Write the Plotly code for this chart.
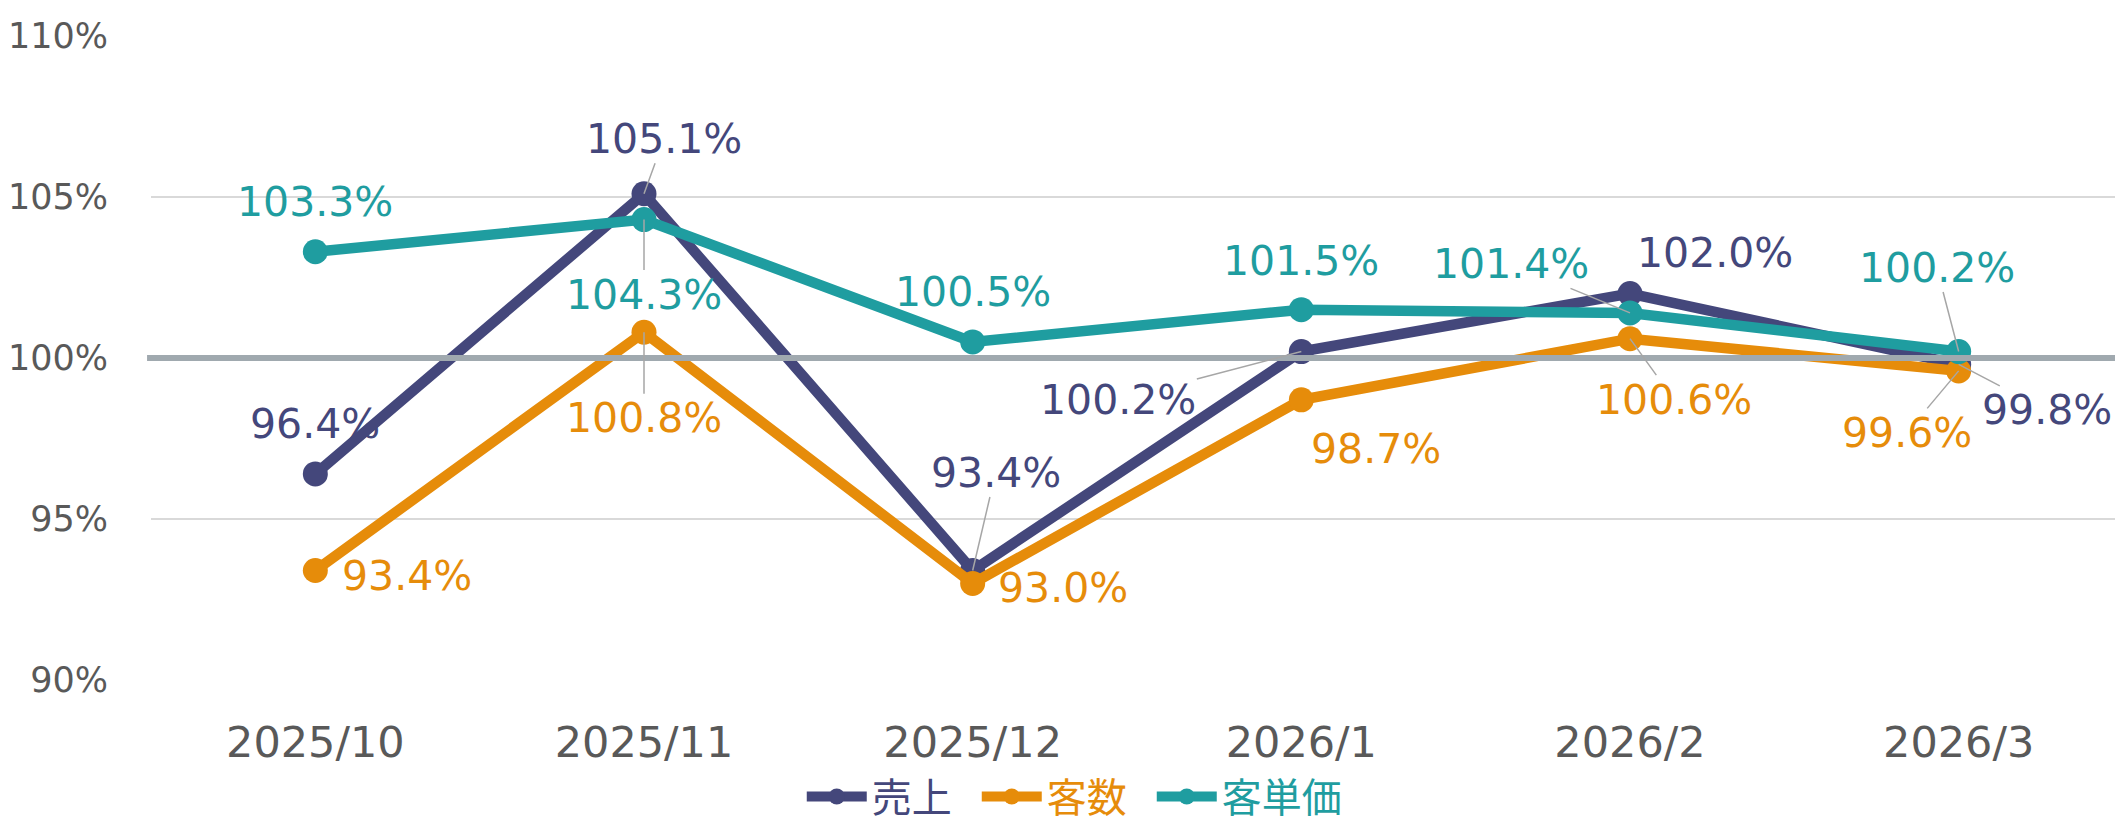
import plotly.graph_objects as go

categories = ["2025/10", "2025/11", "2025/12", "2026/1", "2026/2", "2026/3"]
series_names = ["売上", "客数", "客単価"]
sales = [96.4, 105.1, 93.4, 100.2, 102.0, 99.8]
customers = [93.4, 100.8, 93.0, 98.7, 100.6, 99.6]
unit_price = [103.3, 104.3, 100.5, 101.5, 101.4, 100.2]
y_ticks = [90, 95, 100, 105, 110]

colors = ["#44477B", "#E68C0A", "#1F9DA0"]
values = [sales, customers, unit_price]

# label offsets in pixels (dx, dy) relative to point, and whether leader line shown
label_offsets = [
    [(0, -50, False), (20, -55, True), (23, -98, True), (-183, 48, True), (85, -41, False), (88, 46, True)],
    [(92, 5, False), (0, 86, True), (90, 5, False), (75, 49, False), (44, 61, True), (-52, 62, True)],
    [(0, -50, False), (0, 75, True), (0, -50, False), (0, -49, False), (-119, -49, True), (-22, -84, True)],
]

FONT = "DejaVu Sans, Noto Sans CJK JP, sans-serif"

fig = go.Figure()
for i, (name, vals, col) in enumerate(zip(series_names, values, colors)):
    pad = "\u2002" if i < len(series_names) - 1 else ""
    fig.add_trace(go.Scatter(
        x=categories, y=vals, mode="lines+markers",
        name=f"<span style='color:{col}'>{name}</span>{pad}",
        line=dict(color=col, width=10.5),
        marker=dict(color=col, size=25),
        cliponaxis=False,
    ))

annotations = []
for vals, col, offs in zip(values, colors, label_offsets):
    for c, v, (dx, dy, lead) in zip(categories, vals, offs):
        annotations.append(dict(
            x=c, y=v, xref="x", yref="y",
            text=f"{v:.1f}%",
            showarrow=True, ax=dx, ay=dy,
            arrowhead=0, arrowwidth=1.5, standoff=0,
            arrowcolor="#A6A6A6" if lead else "rgba(0,0,0,0)",
            font=dict(family=FONT, size=41, color=col),
            borderpad=0,
        ))

fig.add_shape(type="line", xref="paper", yref="y", x0=-0.002, x1=1, y0=100, y1=100,
              line=dict(color="#A0A9AF", width=6), layer="above")

fig.update_layout(
    width=2115, height=821,
    margin=dict(l=139, r=0, t=28, b=137),
    paper_bgcolor="white", plot_bgcolor="white",
    font=dict(family=FONT, color="#595959"),
    showlegend=True,
    legend=dict(orientation="h", x=0.330, xanchor="left", y=-0.181, yanchor="middle",
                font=dict(size=40, family=FONT), itemwidth=60, tracegroupgap=0),
    annotations=annotations,
    xaxis=dict(range=[-0.5, 5.5], showgrid=False, zeroline=False, showline=False, ticks="",
               tickfont=dict(size=43, color="#595959"), ticklabelstandoff=33),
    yaxis=dict(range=[90, 110], tickvals=y_ticks, ticktext=[f"{t}%" for t in y_ticks],
               showgrid=True, gridcolor="#D9D9D9", gridwidth=2, zeroline=False,
               showline=False, ticks="", tickfont=dict(size=35, color="#595959"),
               ticklabelstandoff=42),
)

fig.write_html("out.html")
